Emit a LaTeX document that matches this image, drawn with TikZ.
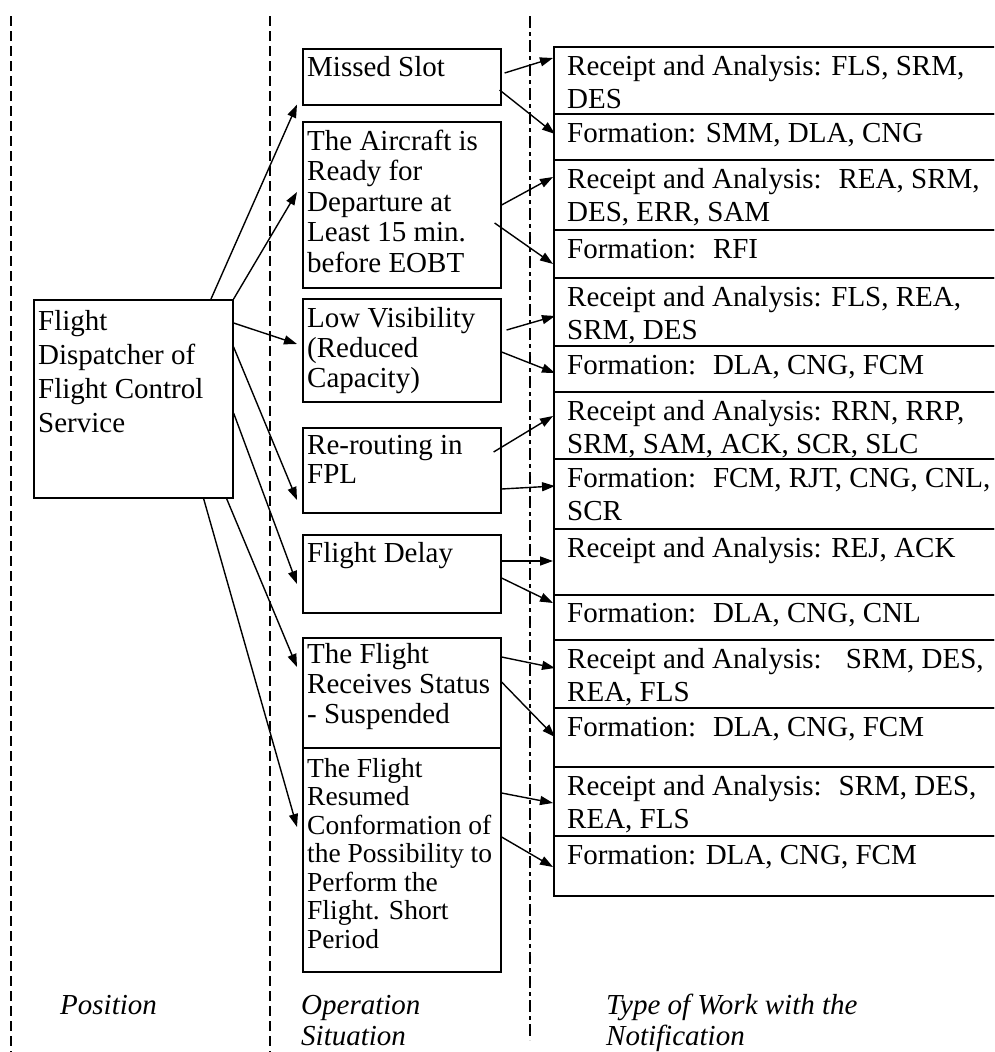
\documentclass[tikz,border=0pt]{standalone}
\usepackage{fontspec}
\setmainfont{Liberation Serif}
\usetikzlibrary{arrows.meta,calc}
\newcommand{\mylines}[1]{\begin{tabular}[t]{@{}l@{}}#1\end{tabular}}
\begin{document}
\begin{tikzpicture}[x=1pt,y=-1pt,
  box/.style={draw, line width=1.6pt, rectangle, inner sep=0pt, anchor=north west},
  rowbox/.style={box, minimum width=451pt},
  txt/.style={anchor=base west, inner sep=0pt, font=\fontsize{29}{33}\selectfont},
  mtxt/.style={txt, font=\fontsize{29}{30}\selectfont},
  itxt/.style={txt, font=\fontsize{29}{31}\selectfont\itshape},
  arr/.style={line width=1.4pt, -{Triangle[length=13pt,width=9pt]}},
  sepline/.style={line width=1.3pt, dash pattern=on 10pt off 5pt},
  sepdot/.style={line width=1.3pt, dash pattern=on 12pt off 4pt on 4pt off 4pt},
]
\useasboundingbox (0,0) rectangle (994,1052);
\clip (0,0) rectangle (994,1052);

% column separators
\draw[sepline] (11,16) -- (11,1052);
\draw[sepline] (270,16) -- (270,1052);
\draw[sepdot] (530,16) -- (530,1040);

% position box
\node[box, minimum width=199pt, minimum height=198pt] (D) at (33,299) {};
\node[txt, font=\fontsize{29}{34}\selectfont] (tD) at ($(D.north west)+(5,31)$) {\mylines{Flight\\Dispatcher of\\Flight Control\\Service}};

% operation situation boxes
\node[box, minimum width=198pt, minimum height=56pt] (ms) at (302,48) {};
\node[box, minimum width=198pt, minimum height=166pt] (ac) at (302,121) {};
\node[box, minimum width=198pt, minimum height=103pt] (lv) at (302,298) {};
\node[box, minimum width=198pt, minimum height=85pt] (rr) at (302,427) {};
\node[box, minimum width=198pt, minimum height=78pt] (fd) at (302,534) {};
\node[box, minimum width=198pt, minimum height=110pt] (rs) at (302,637) {};
\node[box, minimum width=198pt, minimum height=224pt] (rm) at (302,747) {};

\node[mtxt] (tms) at ($(ms.north west)+(5,28)$) {\mylines{Missed Slot}};
\node[mtxt, font=\fontsize{29}{30.5}\selectfont] (tac) at ($(ac.north west)+(5,29)$) {\mylines{The Aircraft is\\Ready for\\Departure at\\Least 15 min.\\before EOBT}};
\node[mtxt] (tlv) at ($(lv.north west)+(5,29)$) {\mylines{Low Visibility\\(Reduced\\Capacity)}};
\node[mtxt, font=\fontsize{29}{29}\selectfont] (trr) at ($(rr.north west)+(5,27)$) {\mylines{Re-routing in\\FPL}};
\node[mtxt] (tfd) at ($(fd.north west)+(5,28)$) {\mylines{Flight Delay}};
\node[mtxt] (trs) at ($(rs.north west)+(5,26)$) {\mylines{The Flight\\Receives Status\\- Suspended}};
\node[mtxt, font=\fontsize{27.5}{28.5}\selectfont] (trm) at ($(rm.north west)+(5,30)$) {\mylines{The Flight\\Resumed\\Conformation of\\the Possibility to\\Perform the\\Flight. Short\\Period}};

% notification rows
\node[rowbox, minimum height=67pt] (r1) at (553,46) {};
\node[rowbox, minimum height=46pt] (r2) at (553,113) {};
\node[rowbox, minimum height=70pt] (r3) at (553,159) {};
\node[rowbox, minimum height=48pt] (r4) at (553,229) {};
\node[rowbox, minimum height=68pt] (r5) at (553,277) {};
\node[rowbox, minimum height=46pt] (r6) at (553,345) {};
\node[rowbox, minimum height=67pt] (r7) at (553,391) {};
\node[rowbox, minimum height=70pt] (r8) at (553,458) {};
\node[rowbox, minimum height=66pt] (r9) at (553,528) {};
\node[rowbox, minimum height=45pt] (r10) at (553,594) {};
\node[rowbox, minimum height=68pt] (r11) at (553,639) {};
\node[rowbox, minimum height=59pt] (r12) at (553,707) {};
\node[rowbox, minimum height=69pt] (r13) at (553,766) {};
\node[rowbox, minimum height=60pt] (r14) at (553,835) {};

\node[txt] (t1) at ($(r1.north west)+(14,29)$) {\mylines{Receipt and Analysis: FLS, SRM,\\DES}};
\node[txt] (t2) at ($(r2.north west)+(14,29)$) {\mylines{Formation: SMM, DLA, CNG}};
\node[txt] (t3) at ($(r3.north west)+(14,29)$) {\mylines{Receipt and Analysis:~ REA, SRM,\\DES, ERR, SAM}};
\node[txt] (t4) at ($(r4.north west)+(14,29)$) {\mylines{Formation:~ RFI}};
\node[txt] (t5) at ($(r5.north west)+(14,29)$) {\mylines{Receipt and Analysis: FLS, REA,\\SRM, DES}};
\node[txt] (t6) at ($(r6.north west)+(14,29)$) {\mylines{Formation:~ DLA, CNG, FCM}};
\node[txt] (t7) at ($(r7.north west)+(14,29)$) {\mylines{Receipt and Analysis: RRN, RRP,\\SRM, SAM, ACK, SCR, SLC}};
\node[txt] (t8) at ($(r8.north west)+(14,29)$) {\mylines{Formation:~ FCM, RJT, CNG, CNL,\\SCR}};
\node[txt] (t9) at ($(r9.north west)+(14,29)$) {\mylines{Receipt and Analysis: REJ, ACK}};
\node[txt] (t10) at ($(r10.north west)+(14,28)$) {\mylines{Formation:~ DLA, CNG, CNL}};
\node[txt] (t11) at ($(r11.north west)+(14,29)$) {\mylines{Receipt and Analysis:~~ SRM, DES,\\REA, FLS}};
\node[txt] (t12) at ($(r12.north west)+(14,29)$) {\mylines{Formation:~ DLA, CNG, FCM}};
\node[txt] (t13) at ($(r13.north west)+(14,29)$) {\mylines{Receipt and Analysis:~ SRM, DES,\\REA, FLS}};
\node[txt] (t14) at ($(r14.north west)+(14,29)$) {\mylines{Formation: DLA, CNG, FCM}};

% column labels
\node[itxt] (lpos) at (60,1014) {\mylines{Position}};
\node[itxt] (lops) at (301,1014) {\mylines{Operation\\Situation}};
\node[itxt] (ltyp) at (606,1014) {\mylines{Type of Work with the\\Notification}};

% position -> situations
\draw[arr] ($(D.north west)+(178,0)$) -- ($(ms.south west)+(-5,-1)$);
\draw[arr] (D.north east) -- ($(ac.north west)+(-5,71)$);
\draw[arr] ($(D.north east)+(0,24)$) -- ($(lv.north west)+(-5,46)$);
\draw[arr] ($(D.north east)+(0,48)$) -- ($(rr.north west)+(-5,73)$);
\draw[arr] ($(D.north east)+(0,114)$) -- ($(fd.north west)+(-5,50)$);
\draw[arr] ($(D.south east)+(-7,0)$) -- ($(rs.north west)+(-5,30)$);
\draw[arr] ($(D.south east)+(-30,0)$) -- ($(rm.north west)+(-5,80)$);

% situations -> notification work
\draw[arr] ($(ms.north east)+(3,25)$) -- ($(r1.north west)+(0,12)$);
\draw[arr] ($(ms.north east)+(-2,42)$) -- ($(r2.north west)+(2,21)$);
\draw[arr] ($(ac.north east)+(0,84)$) -- ($(r3.north west)+(0,18)$);
\draw[arr] ($(ac.north east)+(-7,102)$) -- ($(r4.north west)+(0,35)$);
\draw[arr] ($(lv.north east)+(5,32)$) -- ($(r5.north west)+(2,39)$);
\draw[arr] ($(lv.north east)+(0,54)$) -- ($(r6.north west)+(2,28)$);
\draw[arr] ($(rr.north east)+(-8,25)$) -- ($(r7.north west)+(0,25)$);
\draw[arr] ($(rr.north east)+(0,62)$) -- ($(r8.north west)+(2,28)$);
\draw[arr] ($(fd.north east)+(0,27)$) -- ($(r9.north west)+(0,33)$);
\draw[arr] ($(fd.north east)+(0,44)$) -- ($(r10.north west)+(0,9)$);
\draw[arr] ($(rs.north east)+(0,20)$) -- ($(r11.north west)+(2,29)$);
\draw[arr] ($(rs.north east)+(0,45)$) -- ($(r12.north west)+(2,30)$);
\draw[arr] ($(rm.north east)+(0,46)$) -- ($(r13.north west)+(0,37)$);
\draw[arr] ($(rm.north east)+(0,90)$) -- ($(r14.north west)+(0,32)$);
\end{tikzpicture}
\end{document}
